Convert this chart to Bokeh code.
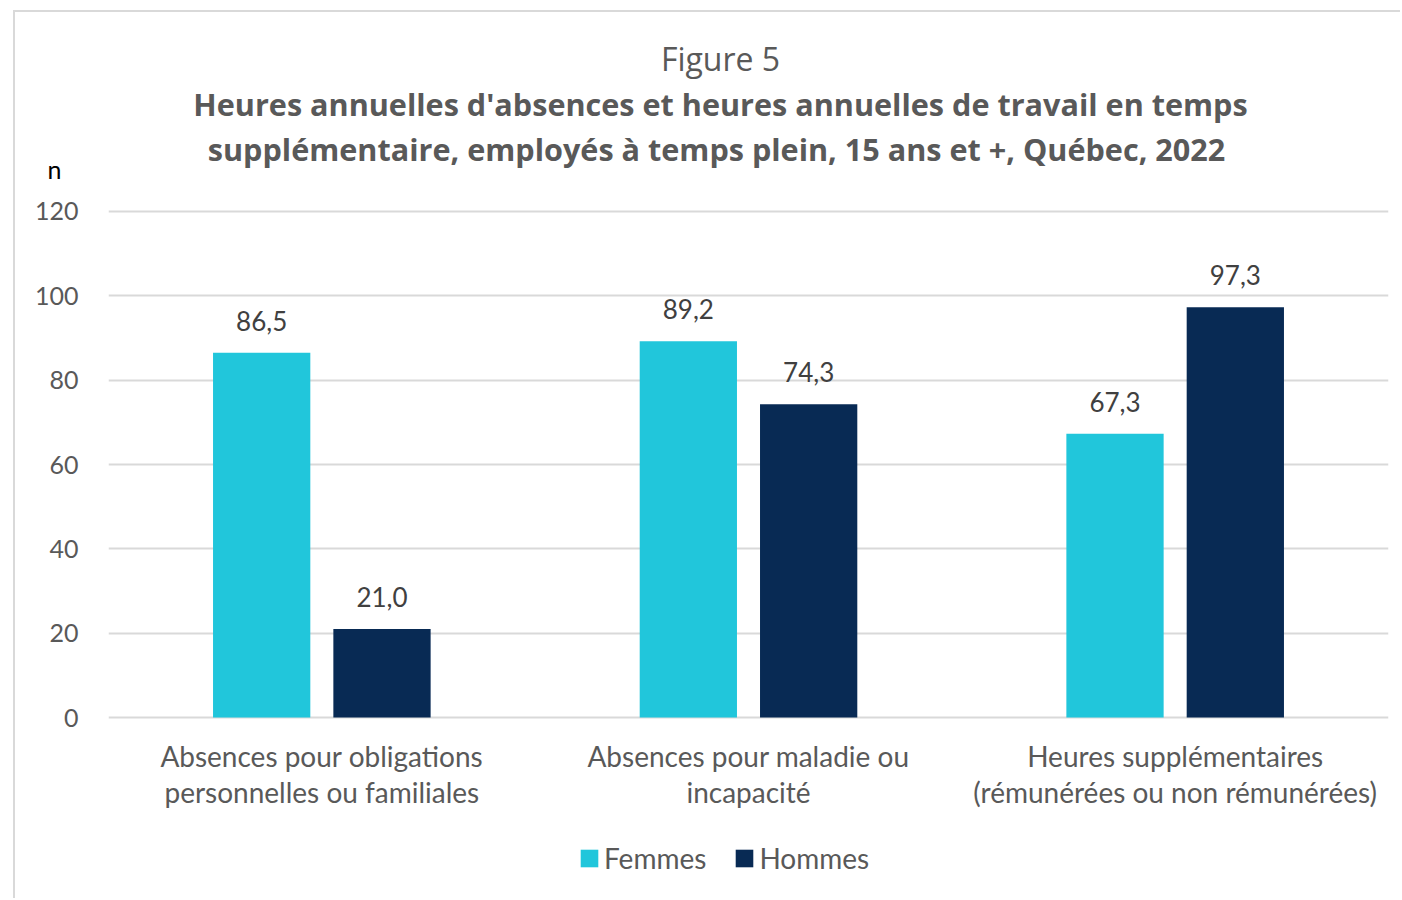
from bokeh.plotting import figure
from bokeh.models import (ColumnDataSource, Range1d, FixedTicker, LabelSet,
                          Legend, LegendItem, LinearAxis)
from bokeh.core.properties import value
from bokeh.embed import file_html
from bokeh.resources import INLINE

# ---- data ----
categories = ["Absences pour obligations\npersonnelles ou familiales",
              "Absences pour maladie ou\nincapacité",
              "Heures supplémentaires\n(rémunérées ou non rémunérées)"]
femmes = [86.5, 89.2, 67.3]
hommes = [21.0, 74.3, 97.3]
series_names = ["Femmes", "Hommes"]
y_ticks = [0, 20, 40, 60, 80, 100, 120]
fig_label = "Figure 5"
title_lines = ["Heures annuelles d'absences et heures annuelles de travail en temps",
               "supplémentaire, employés à temps plein, 15 ans et +,  Québec, 2022"]
y_unit = "n"

FONT = "Lato"
TFONT = "Open Sans"
C_F = "#21C6DB"
C_H = "#082A54"
GRID = "#D9D9D9"
TXT = "#595959"

off = 0.141
bw = 0.228
centers = [i + 0.5 for i in range(len(categories))]

def fmt(v):
    return f"{v:.1f}".replace(".", ",")

src_f = ColumnDataSource(dict(x=[c - off for c in centers], top=femmes,
                              lab=[fmt(v) for v in femmes]))
src_h = ColumnDataSource(dict(x=[c + off for c in centers], top=hommes,
                              lab=[fmt(v) for v in hommes]))

p = figure(width=1387, height=888, output_backend="svg", toolbar_location=None,
           x_range=Range1d(0, 3), y_range=Range1d(-42.2, 166.0),
           min_border_left=93, min_border_right=14, min_border_top=5,
           min_border_bottom=5, margin=(10, 0, 0, 13))
p.styles = {"border-left": "2px solid #D9D9D9", "border-top": "2px solid #D9D9D9"}
p.outline_line_color = None
p.background_fill_color = "white"
p.border_fill_color = "white"

rf = p.vbar(x="x", top="top", width=bw, source=src_f, fill_color=C_F, line_color=None)
rh = p.vbar(x="x", top="top", width=bw, source=src_h, fill_color=C_H, line_color=None)

for src in (src_f, src_h):
    p.add_layout(LabelSet(x="x", y="top", text="lab", source=src, text_align="center",
                          text_baseline="alphabetic", y_offset=22,
                          text_font=value(FONT), text_font_size="26px",
                          text_color="#404040"))

# titles (inside the extended frame, above the 120 gridline)
tx = (720 - 108) / (1280 / 3)
p.text(x=[tx], y=[156.3], text=[fig_label], text_align="center",
       text_baseline="middle", text_font=value(TFONT), text_font_size="32px",
       text_color=TXT)
p.text(x=[tx, tx], y=[145.4, 134.7], text=title_lines, text_align="center",
       text_baseline="middle", text_font=value(TFONT), text_font_size="30.6px",
       text_font_style="bold", text_color=TXT)

# main y axis
ya = p.yaxis[0]
ya.ticker = FixedTicker(ticks=y_ticks)
ya.axis_line_color = None
ya.major_tick_line_color = None
ya.minor_tick_line_color = None
ya.major_tick_out = 0
ya.minor_tick_out = 0
ya.major_label_standoff = 30
ya.major_label_text_font = FONT
ya.major_label_text_font_size = "25px"
ya.major_label_text_color = TXT

# unit label "n" as a second left axis
an = LinearAxis(ticker=FixedTicker(ticks=[130]), major_label_overrides={130: y_unit},
                axis_line_color=None, major_tick_line_color=None,
                minor_tick_line_color=None, major_tick_out=0, minor_tick_out=0,
                major_label_standoff=-30, major_label_text_font=FONT,
                major_label_text_font_size="25px", major_label_text_color="#000000")
p.add_layout(an, "left")

xa = p.xaxis[0]
xa.fixed_location = 0
xa.ticker = FixedTicker(ticks=centers)
xa.major_label_overrides = {c: lab for c, lab in zip(centers, categories)}
xa.axis_line_color = None
xa.major_tick_line_color = None
xa.minor_tick_line_color = None
xa.major_tick_out = 0
xa.minor_tick_out = 0
xa.major_label_standoff = 21
xa.major_label_text_font = FONT
xa.major_label_text_font_size = "28px"
xa.major_label_text_color = TXT
xa.major_label_text_line_height = 1.08

p.xgrid.grid_line_color = None
p.ygrid.grid_line_color = GRID
p.ygrid.grid_line_width = 2

legend = Legend(items=[LegendItem(label=series_names[0], renderers=[rf]),
                       LegendItem(label=series_names[1], renderers=[rh])],
                orientation="horizontal", location=(470, 20),
                glyph_width=22, glyph_height=22, label_standoff=4, spacing=27,
                padding=0, margin=0, border_line_color=None,
                background_fill_alpha=0,
                label_text_font=FONT, label_text_font_size="28px",
                label_text_color=TXT)
p.add_layout(legend, "center")

open("out.html", "w").write(file_html(p, INLINE))
